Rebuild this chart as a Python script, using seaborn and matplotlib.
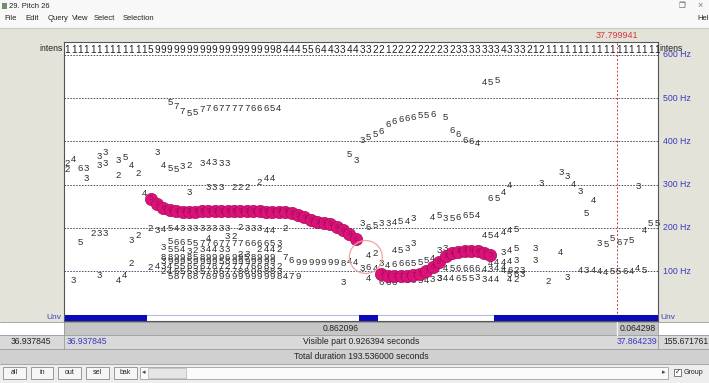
import numpy as np
import pandas as pd
import matplotlib
matplotlib.use("Agg")
import matplotlib.pyplot as plt
from matplotlib.patches import Rectangle
from matplotlib.transforms import blended_transform_factory
import seaborn as sns

sns.set_theme(style="white")
plt.rcParams['font.family'] = ['Liberation Sans', 'DejaVu Sans']

# ---- editor window state ----------------------------------------------------
VIS_START = 36.937845
VIS_END = 37.864239
CURSOR = 37.799941
TOTAL_DURATION = 193.536
TIME_STEP = 0.01
WINDOW_TITLE = "29. Pitch 26"
MENUS = ["File", "Edit", "Query", "View", "Select", "Selection"]
BUTTONS = ["all", "in", "out", "sel", "bak"]
FREQ_TICKS = [100, 200, 300, 400, 500, 600]

# intensity digit per frame
INTENS = ("1111111111111" "5" "9999999999999999999" "8" "444556443344"
          "3322" "1" "22222222" "32" "3333333" "4" "333" "212"
          "111111111111111111")

# chosen pitch path (Hz) per frame, None = unvoiced
PITCH_HZ = ([None] * 13 +
            [267, 255, 246, 241, 239, 237, 237, 238, 239, 239, 239, 239, 239,
             239, 239, 239, 239, 239, 238, 238, 237, 237, 234, 230, 225, 218,
             213, 211, 209, 202, 195, 186, 174] +
            [None] * 3 +
            [94, 89, 88, 88, 89, 91, 93, 100, 109, 121, 135, 142, 145, 147,
             147, 146, 143, 137] +
            [None] * 26)
# strength digits printed inside the path circles
PATH_STRENGTH = ("576999999999999999999999999998886"
                 "777777776888888675")

# candidate runs: (first frame, digits, frequency per digit in Hz)
UPPER_RUNS = [
    (16, "577557767777766654", [489, 480, 468, 465, 466, 474, 477, 477, 477,
                                477, 477, 477, 477, 477, 477, 477, 477, 477]),
    (65, "455", [537, 535, 540]),
    (46, "355666666556", [403, 410, 415, 422, 438, 445, 450, 454, 456, 459,
                          459, 461]),
    (59, "5", [456]),
    (60, "66664", [426, 415, 403, 399, 396]),
    (44, "53", [369, 357]),
]
LEFT_RUNS = [
    (0, "2", [350]), (1, "4", [359]), (0, "2", [336]), (2, "63", [338, 338]),
    (3, "3", [315]), (5, "33", [366, 375]), (5, "33", [345, 348]),
    (8, "35", [357, 363]), (10, "4", [345]), (11, "2", [327]), (8, "2", [322]),
    (14, "3", [375]), (15, "45532", [345, 338, 336, 341, 345]),
    (21, "34333", [348, 352, 352, 350, 348]), (19, "3", [283]),
    (22, "333", [293, 293, 293]), (26, "222", [294, 294, 294]),
    (30, "244", [306, 315, 315]), (12, "4", [280]),
    (2, "5", [167]), (4, "233", [188, 188, 188]), (10, "32", [171, 183]),
    (10, "2", [118]), (5, "3", [91]), (8, "4", [79]), (9, "4", [91]),
    (1, "3", [79]), (13, "24", [109, 112]),
]
CLUSTER_RUNS = [
    (13, "2345433333333", [199, 195, 197, 199, 199, 199, 199, 199, 199, 199,
                           199, 199, 199]),
    (22, "4", [176]), (25, "32", [181, 181]),
    (27, "233344", [201, 199, 199, 199, 195, 195]), (34, "2", [199]),
    (16, "566557767777666653", [169, 166, 166, 166, 164, 164, 164, 164, 164,
                                164, 164, 164, 164, 164, 164, 164, 164, 164]),
    (15, "35543234433", [155, 150, 150, 150, 145, 148, 150, 150, 150, 150, 150]),
    (27, "23", [139, 139]), (30, "2442", [150, 150, 150, 150]),
    (15, "889985899969958999", [133] * 18),
    (15, "399959999589999999", [122] * 18),
    (15, "3455656787277766832", [110] * 19),
    (15, "2465535765778806883", [99] * 19),
    (16, "587687899999999998479", [88] * 21),
    (34, "769999999844", [131, 126, 121, 121, 121, 121, 121, 121, 121, 118,
                          123, 120]),
    (43, "3", [75]),
]
LOWER_MID_RUNS = [
    (46, "364", [107, 109, 107]), (47, "42", [137, 141]), (47, "4", [84]),
    (49, "3", [118]),
    (50, "46665554", [114, 116, 118, 118, 118, 121, 125, 130]),
    (58, "33", [148, 152]), (51, "4533", [148, 148, 153, 164]),
    (49, "666", [75, 75, 75]), (53, "635433", [79, 79, 79, 79, 82, 84]),
    (58, "3446553", [84, 84, 84, 84, 84, 84, 86]),
    (59, "4566664344", [107, 107, 107, 107, 107, 107, 104, 104, 107, 109]),
    (66, "44443", [118, 120, 121, 123, 125]),
    (68, "4623", [102, 102, 102, 102]), (69, "563", [92, 92, 92]),
    (65, "344", [80, 80, 80]), (69, "42", [80, 80]),
]
RIGHT_RUNS = [
    (46, "3653", [211, 202, 206, 211]), (50, "34543", [211, 213, 216, 216, 223]),
    (57, "45356654", [225, 230, 223, 223, 225, 230, 230, 230]),
    (65, "454445", [183, 183, 183, 190, 195, 197]),
    (90, "455", [195, 211, 211]),
    (83, "355675", [164, 162, 176, 167, 167, 172]),
    (66, "65", [268, 268]), (68, "4", [282]), (69, "4", [299]), (74, "3", [303]),
    (77, "3", [329]), (78, "3", [318]), (79, "4", [301]), (80, "3", [285]),
    (82, "4", [264]), (89, "3", [297]), (81, "5", [234]),
    (68, "345", [144, 148, 153]), (73, "3", [153]), (73, "3", [125]),
    (77, "4", [144]), (75, "2", [77]), (78, "3", [86]),
    (80, "434445564", [102, 102, 102, 99, 97, 99, 99, 99, 99]),
    (89, "45", [106, 102]),
]
# highlight ring drawn around a point of the track
RING_TIME = 37.4085
RING_HZ = 133

# ---- colours ----------------------------------------------------------------
PINK = "#dc127a"
PINK_EDGE = "#a80c58"
UNV_BLUE = "#0a0ab8"
LABEL_BLUE = "#3a3ac0"
DIGIT = "#2e2e2e"
WIN_BG = "#e3e3da"
PANEL_GREY = "#c6c6c6"

W, H = 709, 383
fig = plt.figure(figsize=(W / 100, H / 100), dpi=100)

# window chrome, in screen pixels
bg = fig.add_axes([0, 0, 1, 1])
bg.set_xlim(0, W)
bg.set_ylim(H, 0)
bg.axis("off")


def box(x0, y0, x1, y1, **kw):
    bg.add_patch(Rectangle((x0, y0), x1 - x0, y1 - y0, **kw))


box(0, 0, W, 28, color="#f8f8f8", lw=0)
box(0, 28, W, 322, color=WIN_BG, lw=0)
bg.plot([0, W], [28, 28], color="#c8c8c8", lw=0.8)
box(2, 3, 7, 9, color="#6f8f6f", lw=0)
bg.text(9, 6, WINDOW_TITLE, fontsize=5.5, va="center", color="#222222")
bg.text(682, 6, "\u2750", fontsize=5.5, va="center", ha="center", color="#555555")
bg.text(700, 6, "\u00d7", fontsize=6.5, va="center", ha="center", color="#777777")
mx = 4
for m in MENUS:
    t = bg.text(mx, 19, m, fontsize=5.5, va="center", color="#222222")
    mx += len(m) * 3.4 + 8
bg.text(697, 19, "Hel", fontsize=5.5, va="center", color="#222222")

# bottom panels
box(64, 322, 658, 335, color=PANEL_GREY, lw=0)
box(0, 335, W, 349, color="#d9d9d9", lw=0)
box(0, 349, W, 364, color="#d0d0d0", lw=0)
box(0, 364, W, H, color="#eeeeee", lw=0)
for yy in (322, 335, 349, 364):
    bg.plot([0, W], [yy, yy], color="#9a9a9a", lw=0.6)
for xx in (64, 658):
    bg.plot([xx, xx], [322, 349], color="#9a9a9a", lw=0.6)
bx = 3
for b in BUTTONS:
    bw = 22 if len(b) < 3 else 23
    box(bx, 367, bx + bw, 379, facecolor="#f6f6f6", edgecolor="#8a8a8a", lw=0.6)
    bg.text(bx + bw / 2, 373, b, fontsize=5, ha="center", va="center", color="#222222")
    bx += bw + 5
box(140, 367, 668, 379, facecolor="#fbfbfb", edgecolor="#a0a0a0", lw=0.6)
box(148, 368, 186, 378, facecolor="#e6e6e6", edgecolor="#b5b5b5", lw=0.5)
bg.text(144, 373, "\u25c2", fontsize=5, ha="center", va="center", color="#444444")
bg.text(664, 373, "\u25b8", fontsize=5, ha="center", va="center", color="#444444")
box(674, 369, 681, 376, facecolor="white", edgecolor="#666666", lw=0.6)
bg.text(677.5, 372.5, "\u2713", fontsize=5, ha="center", va="center", color="#222222")
bg.text(684, 373, "Group", fontsize=5, va="center", color="#222222")

# ---- pitch drawing area -----------------------------------------------------
PL, PR, PT, PB = 64, 658, 42, 321
ax = fig.add_axes([PL / W, 1 - PB / H, (PR - PL) / W, (PB - PT) / H])
ax.set_facecolor("white")
HZ_BOTTOM, HZ_TOP = -14.8, 629.6
ax.set_xlim(VIS_START, VIS_END)
ax.set_ylim(HZ_BOTTOM, HZ_TOP)
ax.set_xticks([])
ax.set_yticks([])
for s in ax.spines.values():
    s.set_color("#555555")
    s.set_linewidth(0.8)

frame_t = VIS_START + (np.arange(len(INTENS)) + 0.5) * TIME_STEP
track = pd.DataFrame({"time": frame_t,
                      "hz": pd.to_numeric(pd.Series(PITCH_HZ, dtype="object"),
                                          errors="coerce")})

for f in FREQ_TICKS:
    ax.axhline(f, color="#4f4f6f", lw=0.7, ls=(0, (1.6, 1.4)), zorder=1)

ax.axvline(CURSOR, color="#d03a3a", lw=0.7, ls=(0, (2, 2)), zorder=1)

# unvoiced strip
UNV_LOW, UNV_HIGH = -14.8, -0.8
ax.axhline(UNV_HIGH, color="#b9b9e2", lw=0.8, zorder=1)
unv = track[track["hz"].isna()]
ax.bar(unv["time"], UNV_HIGH - UNV_LOW, bottom=UNV_LOW, width=TIME_STEP,
       color=UNV_BLUE, linewidth=0, zorder=2)

INTENS_HZ = 612
for t, ch in zip(frame_t, INTENS):
    ax.text(t, INTENS_HZ, ch, fontsize=7.2, ha="center", va="center",
            color="#202020", zorder=4)

for runs in (UPPER_RUNS, LEFT_RUNS, CLUSTER_RUNS, LOWER_MID_RUNS, RIGHT_RUNS):
    for start, digits, freqs in runs:
        for k, (ch, hz) in enumerate(zip(digits, freqs)):
            ax.text(frame_t[start + k], hz, ch, fontsize=6.8, ha="center",
                    va="center", color=DIGIT, zorder=2)

voiced = track.dropna()
sns.scatterplot(data=voiced, x="time", y="hz", ax=ax, s=78, color=PINK,
                edgecolor=PINK_EDGE, linewidth=0.5, zorder=3, legend=False)
for t, hz, ch in zip(voiced["time"], voiced["hz"], PATH_STRENGTH):
    ax.text(t, hz, ch, fontsize=5.2, ha="center", va="center",
            color="#8a0b45", alpha=0.7, zorder=4)

ax.scatter([RING_TIME], [RING_HZ], s=560, facecolors="none",
           edgecolors="#eba6a6", linewidths=0.9, zorder=3)
ax.set_xlabel("")
ax.set_ylabel("")

# axis labels beside the drawing area
tr = blended_transform_factory(ax.transAxes, ax.transData)
for f in FREQ_TICKS:
    ax.text(1.008, f, f"{f} Hz", transform=tr, fontsize=6.3, ha="left",
            va="center", color=LABEL_BLUE, clip_on=False)
ax.text(-0.002, INTENS_HZ + 2, "intens", transform=tr, fontsize=6.3,
        ha="right", va="center", color="#222222", clip_on=False)
ax.text(1.003, INTENS_HZ + 2, "intens", transform=tr, fontsize=6.3,
        ha="left", va="center", color="#222222", clip_on=False)
ax.text(-0.004, (UNV_LOW + UNV_HIGH) / 2, "Unv", transform=tr, fontsize=6,
        ha="right", va="center", color=LABEL_BLUE, clip_on=False)
ax.text(1.004, (UNV_LOW + UNV_HIGH) / 2, "Unv", transform=tr, fontsize=6,
        ha="left", va="center", color=LABEL_BLUE, clip_on=False)
ax.text(CURSOR, 1.025, f"{CURSOR:.6f}", transform=ax.get_xaxis_transform(),
        fontsize=6.5, ha="center", va="center", color="#d03a3a", clip_on=False)

# time readouts under the drawing area, positioned on the same time scale
tx = ax.get_xaxis_transform()
ax.plot([CURSOR, CURSOR], [-0.003, -0.05], transform=tx, color="#f4f4f4",
        lw=1.0, clip_on=False)
ax.text((VIS_START + CURSOR) / 2, -0.026, f"{CURSOR - VIS_START:.6f}",
        transform=tx, fontsize=6.2, ha="center", va="center", color="#222222")
ax.text((CURSOR + VIS_END) / 2, -0.026, f"{VIS_END - CURSOR:.6f}",
        transform=tx, fontsize=6.2, ha="center", va="center", color="#222222")
ax.text(VIS_START + 0.004, -0.075, f"{VIS_START:.6f}", transform=tx,
        fontsize=6.2, ha="left", va="center", color=LABEL_BLUE)
ax.text(VIS_END - 0.001, -0.075, f"{VIS_END:.6f}", transform=tx,
        fontsize=6.2, ha="right", va="center", color=LABEL_BLUE)
ax.text((VIS_START + VIS_END) / 2, -0.075,
        f"Visible part {VIS_END - VIS_START:.6f} seconds", transform=tx,
        fontsize=6.2, ha="center", va="center", color="#222222")
ax.text((VIS_START + VIS_END) / 2, -0.128,
        f"Total duration {TOTAL_DURATION:.6f} seconds", transform=tx,
        fontsize=6.2, ha="center", va="center", color="#222222")
bg.text(31, 342, f"{VIS_START:.6f}", fontsize=6.2, ha="center", va="center",
        color="#222222")
bg.text(686, 342, f"{TOTAL_DURATION - VIS_END:.6f}", fontsize=6.2,
        ha="center", va="center", color="#222222")

fig.savefig("out.png", dpi=100)
